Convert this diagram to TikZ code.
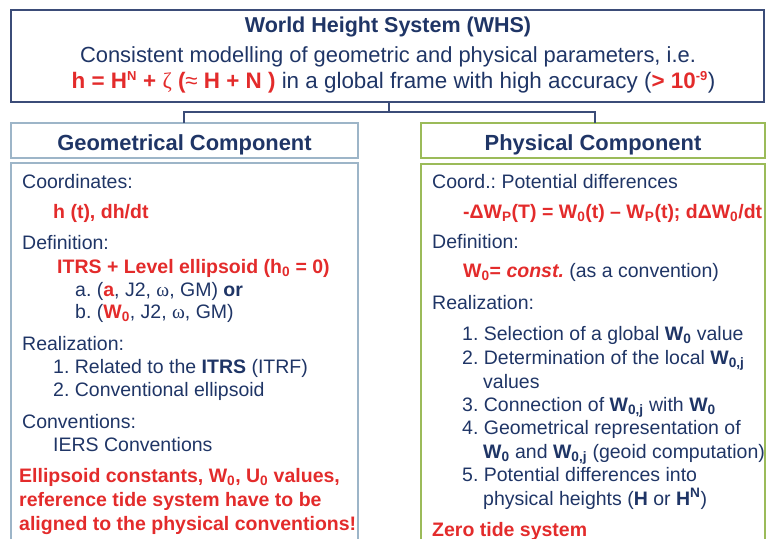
\documentclass[tikz,border=0pt]{standalone}
\usepackage{fontspec}
\setmainfont{Liberation Sans}
\newfontfamily\serifg{Liberation Serif}
\frenchspacing
\definecolor{navy}{HTML}{1F3566}
\definecolor{redt}{HTML}{E32B2B}
\definecolor{topline}{HTML}{3B4C78}
\definecolor{geoline}{HTML}{9DB5C8}
\definecolor{phyline}{HTML}{9BBB59}
\tikzset{
  box/.style={draw, line width=2.6pt, inner sep=0pt},
  txt/.style={anchor=base west, inner sep=0pt, text=navy, font=\frenchspacing\fontsize{19.5}{19.5}\selectfont},
  head/.style={anchor=base, inner sep=0pt, text=navy, font=\bfseries\fontsize{21.9}{21.9}\selectfont},
  topt/.style={anchor=base, inner sep=0pt, text=navy, font=\frenchspacing\fontsize{21.9}{21.9}\selectfont},
  conn/.style={draw=topline, line width=2pt}
}
\newcommand{\rb}[1]{\textcolor{redt}{\bfseries #1}}
\newcommand{\sub}[1]{\textsubscript{#1}}
\newcommand{\smsup}[1]{\textsuperscript{\fontsize{13}{13}\selectfont #1}}
\newcommand{\om}{{\serifg ω}}
\begin{document}
\begin{tikzpicture}[x=1pt,y=-1pt]
\useasboundingbox (0,0) rectangle (768,538);
% boxes
\draw[box, draw=topline, line width=2.4pt] (11,10) rectangle (764,102);
\coordinate (topS) at (389,102);
\coordinate (geoN) at (184,123);
\coordinate (phyN) at (595,123);
\draw[box, draw=geoline] (11,123) rectangle (358,158);
\draw[box, draw=geoline] (11,163) rectangle (358,560);
\draw[box, draw=phyline] (421,123) rectangle (765,158);
\draw[box, draw=phyline] (421,164) rectangle (765,560);
% connectors
\coordinate (mid) at (389,112);
\draw[conn] (topS) -- (mid);
\draw[conn] (geoN) |- (mid) -| (phyN);
% top text
\node[head, font=\bfseries\fontsize{21.5}{21.5}\selectfont] (t1) at (388,32) {World Height System (WHS)};
\node[topt] (t2) at (388,62) {Consistent modelling of geometric and physical parameters, i.e.};
\node[topt, font=\frenchspacing\fontsize{22.4}{22.4}\selectfont] (t3) at (393.5,88) {\rb{h = H\smsup{N} +} \textcolor{redt}{{\serifg ζ} {\bfseries(}≈ \bfseries H + N )} in a global frame with high accuracy (\rb{> 10\smsup{-9}})};
% headings
\node[head] (gh) at (184.5,150) {Geometrical Component};
\node[head] (ph) at (593,150) {Physical Component};
% left body
\node[txt] (g1) at (22,188) {Coordinates:};
\node[txt] (g2) at (53,218) {\rb{h (t), dh/dt}};
\node[txt] (g3) at (22,249) {Definition:};
\node[txt] (g4) at (57,273) {\rb{ITRS + Level ellipsoid (h\sub{0} = 0)}};
\node[txt] (g5) at (75,296) {a. (\rb{a}, J2, \om, GM) \textbf{or}};
\node[txt] (g6) at (75,318) {b. (\rb{W\sub{0}}, J2, \om, GM)};
\node[txt] (g7) at (22,350) {Realization:};
\node[txt] (g8) at (53,373) {1. Related to the \textbf{ITRS} (ITRF)};
\node[txt] (g9) at (53,396) {2. Conventional ellipsoid};
\node[txt] (g10) at (22,428) {Conventions:};
\node[txt] (g11) at (53,451) {IERS Conventions};
\node[txt] (g12) at (19,482) {\rb{Ellipsoid constants, W\sub{0}, U\sub{0} values,}};
\node[txt] (g13) at (19,506) {\rb{reference tide system have to be}};
\node[txt] (g14) at (19,530) {\rb{aligned to the physical conventions!}};
% right body
\node[txt] (p1) at (432,188) {Coord.: Potential differences};
\node[txt] (p2) at (463,218) {\rb{-ΔW\sub{P}(T) = W\sub{0}(t) – W\sub{P}(t); dΔW\sub{0}/dt}};
\node[txt] (p3) at (432,248) {Definition:};
\node[txt] (p4) at (463,277) {\rb{W\sub{0}= \itshape const.} (as a convention)};
\node[txt] (p5) at (432,309) {Realization:};
\node[txt] (p6) at (462,340) {1. Selection of a global \textbf{W\sub{0}} value};
\node[txt] (p7) at (462,364) {2. Determination of the local \textbf{W\sub{0,j}}};
\node[txt] (p8) at (483,388) {values};
\node[txt] (p9) at (462,411) {3. Connection of \textbf{W\sub{0,j}} with \textbf{W\sub{0}}};
\node[txt] (p10) at (462,434) {4. Geometrical representation of};
\node[txt] (p11) at (483,458) {\textbf{W\sub{0}} and \textbf{W\sub{0,j}} (geoid computation)};
\node[txt] (p12) at (462,481) {5. Potential differences into};
\node[txt] (p13) at (483,505) {physical heights (\textbf{H} or \textbf{H\textsuperscript{N}})};
\node[txt] (p14) at (432,536) {\rb{Zero tide system}};
\end{tikzpicture}
\end{document}
